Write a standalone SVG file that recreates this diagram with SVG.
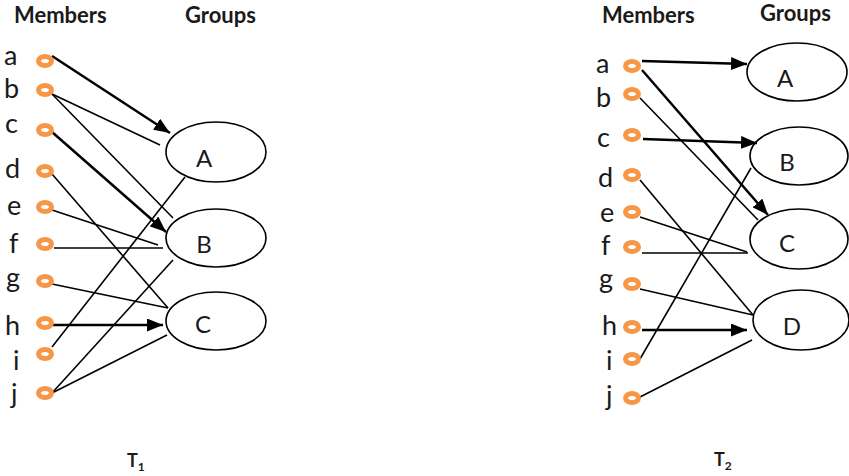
<svg xmlns="http://www.w3.org/2000/svg" width="849" height="476" viewBox="0 0 849 476">
<style>
.hdr{font-family:Lato,"Open Sans",sans-serif;font-weight:bold;font-size:22px;fill:#1a1a1a}
.lbl{font-family:Lato,"Open Sans",sans-serif;font-size:27px;fill:#1a1a1a}
.glb{font-family:Lato,"Open Sans",sans-serif;font-size:24px;fill:#1a1a1a}
.t{font-family:Lato,"Open Sans",sans-serif;font-weight:bold;font-size:18px;fill:#1a1a1a}
.ring{fill:none;stroke:#F79646;stroke-width:5}
.grp{fill:#fff;stroke:#000;stroke-width:1.6}
.thin{stroke:#000;stroke-width:1.6;fill:none}
.thick{stroke:#000;stroke-width:2.5;fill:none;marker-end:url(#ah)}
</style>
<defs>
<marker id="ah" viewBox="0 0 16 13" refX="16" refY="6.5" markerWidth="16" markerHeight="13" markerUnits="userSpaceOnUse" orient="auto">
<path d="M0,0 L16,6.5 L0,13 z" fill="#000"/>
</marker>
</defs>
<rect width="849" height="476" fill="#fff"/>

<!-- Left panel T1 -->
<text class="hdr" x="14" y="23">Members</text>
<text class="hdr" x="185" y="23">Groups</text>

<g id="T1-groups">
<g id="T1-A"><ellipse class="grp" cx="216" cy="152" rx="50" ry="30"/><text class="glb" x="204" y="167" text-anchor="middle">A</text></g>
<g id="T1-B"><ellipse class="grp" cx="216" cy="238" rx="50" ry="29"/><text class="glb" x="204" y="253" text-anchor="middle">B</text></g>
<g id="T1-C"><ellipse class="grp" cx="216" cy="321" rx="50" ry="29"/><text class="glb" x="203" y="333" text-anchor="middle">C</text></g>
</g>

<g id="T1-connectors">
<line class="thick" x1="52" y1="56" x2="170" y2="133"/>
<line class="thin" x1="52" y1="94" x2="160" y2="145"/>
<line class="thin" x1="52" y1="94" x2="173" y2="218"/>
<line class="thick" x1="52" y1="132" x2="166" y2="232"/>
<line class="thin" x1="52" y1="174" x2="168" y2="308"/>
<line class="thin" x1="52" y1="210" x2="158" y2="245"/>
<line class="thin" x1="54" y1="248" x2="163" y2="248"/>
<line class="thin" x1="52" y1="284" x2="168" y2="308"/>
<line class="thick" x1="53" y1="325" x2="163" y2="325"/>
<line class="thin" x1="185" y1="177" x2="52" y2="347"/>
<line class="thin" x1="173" y1="260" x2="52" y2="393"/>
<line class="thin" x1="167" y1="335" x2="52" y2="393"/>
</g>

<g id="T1-members">
<g id="T1-a"><text class="lbl" x="4" y="65">a</text><ellipse class="ring" cx="45" cy="61" rx="6.5" ry="4.5"/></g>
<g id="T1-b"><text class="lbl" x="4" y="98">b</text><ellipse class="ring" cx="45" cy="90" rx="6.5" ry="4.5"/></g>
<g id="T1-c"><text class="lbl" x="5" y="133">c</text><ellipse class="ring" cx="45" cy="130" rx="6.5" ry="4.5"/></g>
<g id="T1-d"><text class="lbl" x="5" y="178">d</text><ellipse class="ring" cx="45" cy="171" rx="6.5" ry="4.5"/></g>
<g id="T1-e"><text class="lbl" x="7" y="215">e</text><ellipse class="ring" cx="45" cy="207" rx="6.5" ry="4.5"/></g>
<g id="T1-f"><text class="lbl" x="9" y="253">f</text><ellipse class="ring" cx="45" cy="244" rx="6.5" ry="4.5"/></g>
<g id="T1-g"><text class="lbl" x="6" y="287">g</text><ellipse class="ring" cx="45" cy="281" rx="6.5" ry="4.5"/></g>
<g id="T1-h"><text class="lbl" x="5" y="335">h</text><ellipse class="ring" cx="45" cy="323" rx="6.5" ry="4.5"/></g>
<g id="T1-i"><text class="lbl" x="13" y="370">i</text><ellipse class="ring" cx="45" cy="354" rx="6.5" ry="4.5"/></g>
<g id="T1-j"><text class="lbl" x="11" y="403">j</text><ellipse class="ring" cx="45" cy="393" rx="6.5" ry="4.5"/></g>
</g>

<text class="t" x="127" y="467">T<tspan font-size="12" dy="4">1</tspan></text>

<!-- Right panel T2 -->
<text class="hdr" x="602" y="23">Members</text>
<text class="hdr" x="760" y="21">Groups</text>

<g id="T2-groups">
<g id="T2-A"><ellipse class="grp" cx="797" cy="72" rx="50" ry="29"/><text class="glb" x="785" y="87" text-anchor="middle">A</text></g>
<g id="T2-B"><ellipse class="grp" cx="799" cy="156" rx="49" ry="29"/><text class="glb" x="787" y="171" text-anchor="middle">B</text></g>
<g id="T2-C"><ellipse class="grp" cx="799" cy="239" rx="49" ry="30"/><text class="glb" x="787" y="252" text-anchor="middle">C</text></g>
<g id="T2-D"><ellipse class="grp" cx="801" cy="320" rx="48" ry="30"/><text class="glb" x="792" y="335" text-anchor="middle">D</text></g>
</g>

<g id="T2-connectors">
<line class="thick" x1="642" y1="61" x2="747" y2="64"/>
<line class="thick" x1="642" y1="70" x2="768" y2="215"/>
<line class="thin" x1="640" y1="98" x2="758" y2="220"/>
<line class="thick" x1="643" y1="139" x2="757" y2="143"/>
<line class="thin" x1="640" y1="180" x2="753" y2="315"/>
<line class="thin" x1="640" y1="217" x2="747" y2="252"/>
<line class="thin" x1="642" y1="253" x2="748" y2="253"/>
<line class="thin" x1="640" y1="289" x2="753" y2="315"/>
<line class="thin" x1="751" y1="168" x2="640" y2="359"/>
<line class="thick" x1="642" y1="330" x2="747" y2="330"/>
<line class="thin" x1="640" y1="397" x2="752" y2="340"/>
</g>

<g id="T2-members">
<g id="T2-a"><text class="lbl" x="596" y="73">a</text><ellipse class="ring" cx="632" cy="66" rx="6.5" ry="4.5"/></g>
<g id="T2-b"><text class="lbl" x="596" y="107">b</text><ellipse class="ring" cx="632" cy="94" rx="6.5" ry="4.5"/></g>
<g id="T2-c"><text class="lbl" x="597" y="147">c</text><ellipse class="ring" cx="632" cy="135" rx="6.5" ry="4.5"/></g>
<g id="T2-d"><text class="lbl" x="598" y="187">d</text><ellipse class="ring" cx="632" cy="175" rx="6.5" ry="4.5"/></g>
<g id="T2-e"><text class="lbl" x="600" y="222">e</text><ellipse class="ring" cx="632" cy="212" rx="6.5" ry="4.5"/></g>
<g id="T2-f"><text class="lbl" x="601" y="255">f</text><ellipse class="ring" cx="632" cy="247" rx="6.5" ry="4.5"/></g>
<g id="T2-g"><text class="lbl" x="599" y="288">g</text><ellipse class="ring" cx="632" cy="284" rx="6.5" ry="4.5"/></g>
<g id="T2-h"><text class="lbl" x="602" y="335">h</text><ellipse class="ring" cx="632" cy="327" rx="6.5" ry="4.5"/></g>
<g id="T2-i"><text class="lbl" x="606" y="370">i</text><ellipse class="ring" cx="632" cy="359" rx="6.5" ry="4.5"/></g>
<g id="T2-j"><text class="lbl" x="606" y="405">j</text><ellipse class="ring" cx="632" cy="398" rx="6.5" ry="4.5"/></g>
</g>

<text class="t" x="714" y="466">T<tspan font-size="12" dy="4">2</tspan></text>
</svg>
